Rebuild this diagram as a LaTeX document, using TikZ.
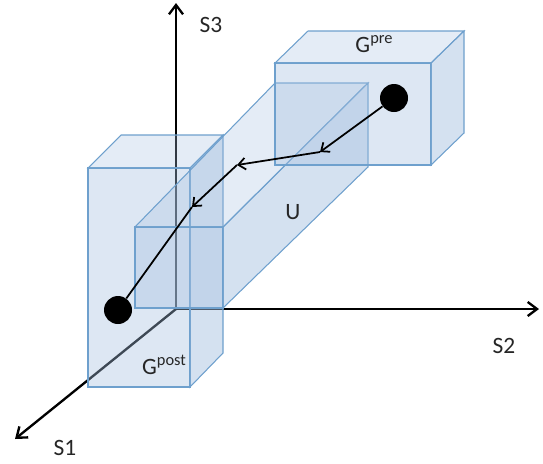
\documentclass[tikz,border=0pt]{standalone}
\usepackage{fontspec}
\setmainfont{Carlito}
\usetikzlibrary{arrows.meta, positioning}

\definecolor{boxfill}{RGB}{165,192,224}
\definecolor{boxedge}{RGB}{110,160,205}

\begin{document}
\begin{tikzpicture}[x=0.03cm, y=-0.03cm,
    axis/.style={line width=2pt, -{Straight Barb[length=8pt, width=12pt, line width=2pt]}},
    face/.style={draw=boxedge, line width=0.9pt, fill=boxfill, fill opacity=0.38},
    topface/.style={face, fill opacity=0.3},
    sideface/.style={face, fill opacity=0.48},
    state/.style={circle, fill=black, minimum size=0.84cm, inner sep=0pt},
    hop/.style={line width=1.5pt, -{Straight Barb[length=6pt, width=10pt, line width=1.5pt]}},
    label/.style={font=\fontsize{20}{22}\selectfont, text=black!85},
    sup/.style={font=\fontsize{14}{14}\selectfont}
]
\useasboundingbox (0,0) rectangle (543,463);

% Achsen
\coordinate (O) at (176,309);
\coordinate (s1end) at (15,439);
\coordinate (s2end) at (539,309);
\coordinate (s3end) at (176,3);
\draw[axis] (O) -- (s3end);
\draw[axis] (O) -- (s2end);
\draw[axis] (O) -- (s1end);

\node[label] (s3) at (211,25) {S3};
\node[label] (s2) at (504,346) {S2};
\node[label] (s1) at (65,448) {S1};

% Box G^post
\filldraw[face] (88,168) rectangle (190,387);
\filldraw[topface] (88,168) -- (121,135) -- (223,135) -- (190,168) -- cycle;
\filldraw[sideface] (190,168) -- (223,135) -- (223,353) -- (190,387) -- cycle;

% Prisma U
\filldraw[face] (135,227) rectangle (223,308);
\filldraw[topface] (135,227) -- (275,83) -- (368,83) -- (223,227) -- cycle;
\filldraw[sideface] (223,227) -- (368,83) -- (368,167) -- (223,308) -- cycle;

% Box G^pre
\filldraw[face] (275,63) rectangle (431,165);
\filldraw[topface] (275,63) -- (308,31) -- (464,31) -- (431,63) -- cycle;
\filldraw[sideface] (431,63) -- (464,31) -- (464,133) -- (431,165) -- cycle;

% Beschriftungen
\node[label] (gpre) at (374,44) {G\raisebox{0.75ex}{\fontsize{14}{14}\selectfont pre}};
\node[label] (gpost) at (164,365) {G\raisebox{0.75ex}{\fontsize{14}{14}\selectfont post}};
\node[label] (u) at (293,212) {U};

% Zustaende und Pfad
\node[state] (pre) at (394,98) {};
\node[state] (post) at (118,310) {};
\coordinate (h1) at (320,152);
\coordinate (h2) at (237,165);
\coordinate (h3) at (192,207);

\draw[hop] (pre) -- (h1);
\draw[hop] (h1) -- (h2);
\draw[hop] (h2) -- (h3);
\draw[line width=1.5pt] (h3) -- (post);
\end{tikzpicture}
\end{document}
